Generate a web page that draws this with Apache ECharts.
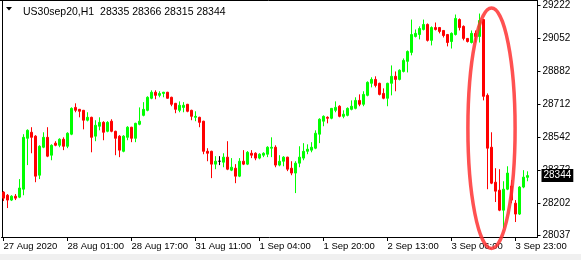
<!DOCTYPE html>
<html>
<head>
<meta charset="utf-8">
<script src="https://cdn.jsdelivr.net/npm/echarts@6/dist/echarts.min.js"></script>
<style>
html,body{margin:0;padding:0;background:#fff;}
#chart{width:581px;height:260px;}
</style>
</head>
<body>
<div id="chart"></div>
<script>
// ---- data (hourly bars, US30sep20 H1) ----
const symbolName = 'US30sep20,H1';
const tickLabels = ['27 Aug 2020','28 Aug 01:00','28 Aug 17:00','31 Aug 11:00','1 Sep 04:00','1 Sep 20:00','2 Sep 13:00','3 Sep 06:00','3 Sep 23:00'];
const yTickValues = [28037, 28202, 28372, 28542, 28712, 28882, 29052, 29222];
const opens = [
28259,28243,28218,28238,28233,28274,28536,28567,28547,28346,
28490,28541,28449,28511,28500,28531,28495,28557,28695,28685,
28680,28629,28644,28547,28598,28618,28572,28624,28572,28547,
28469,28541,28593,28536,28608,28654,28680,28742,28773,28757,
28767,28773,28747,28716,28680,28695,28711,28680,28644,28644,
28624,28469,28469,28403,28418,28413,28439,28372,28382,28341,
28418,28403,28459,28459,28434,28449,28454,28485,28490,28398,
28418,28439,28382,28357,28408,28434,28469,28475,28485,28557,
28624,28644,28639,28680,28701,28649,28654,28685,28690,28731,
28711,28757,28819,28839,28819,28767,28742,28819,28855,28839,
28880,28932,28978,29060,29070,29096,29122,29040,29106,29106,
29091,29070,29034,29070,29147,29112,29050,29029,29076,29060,
29147,28757,28490,28310,28269,28166,28274,28290,28202,28146,
28285,28335];
const closes = [
28228,28218,28238,28228,28280,28541,28577,28541,28341,28495,
28541,28444,28500,28500,28531,28495,28562,28690,28680,28675,
28629,28644,28541,28603,28618,28567,28618,28572,28536,28475,
28547,28593,28536,28613,28624,28685,28747,28773,28757,28767,
28773,28742,28711,28685,28706,28706,28675,28649,28649,28618,
28469,28459,28403,28418,28418,28439,28377,28387,28341,28418,
28403,28464,28449,28434,28454,28459,28490,28490,28398,28418,
28439,28377,28357,28408,28439,28469,28480,28490,28562,28634,
28649,28639,28690,28695,28649,28660,28690,28701,28731,28711,
28762,28824,28839,28808,28762,28742,28819,28855,28839,28886,
28937,28983,29070,29076,29101,29122,29040,29106,29096,29086,
29065,29029,29076,29153,29106,29050,29034,29076,29060,29142,
28752,28485,28305,28264,28166,28274,28357,28218,28146,28285,
28336,28344];
const lows = [
28213,28177,28213,28218,28228,28243,28398,28459,28310,28326,
28485,28439,28423,28495,28490,28475,28485,28552,28670,28644,
28582,28623,28464,28521,28577,28526,28567,28567,28449,28439,
28464,28526,28516,28516,28603,28649,28675,28737,28737,28747,
28747,28740,28701,28665,28670,28670,28670,28629,28624,28593,
28454,28418,28331,28377,28398,28387,28372,28367,28305,28336,
28398,28398,28434,28423,28428,28439,28439,28439,28387,28392,
28392,28367,28346,28254,28387,28423,28454,28464,28480,28511,
28598,28613,28634,28670,28644,28639,28649,28680,28685,28701,
28701,28752,28798,28798,28757,28737,28701,28757,28778,28834,
28875,28875,28963,29055,29045,29091,29034,29014,29091,29076,
29055,29009,28998,29065,29091,29040,29029,29024,29029,29029,
28731,28274,28300,28208,28161,28074,28269,28202,28105,28141,
28279,28315];
const highs = [
28264,28249,28243,28249,28326,28557,28582,28593,28552,28500,
28567,28593,28505,28521,28536,28541,28567,28695,28716,28687,
28682,28670,28647,28629,28644,28624,28624,28634,28575,28552,
28552,28598,28595,28616,28695,28722,28752,28783,28783,28778,
28775,28775,28750,28718,28726,28722,28713,28683,28675,28647,
28626,28485,28472,28444,28444,28459,28521,28434,28403,28434,
28475,28470,28475,28464,28459,28464,28495,28541,28500,28449,
28444,28441,28418,28418,28495,28511,28505,28516,28577,28639,
28654,28649,28692,28726,28706,28680,28695,28731,28747,28762,
28778,28829,28850,28855,28822,28793,28822,28911,28880,28891,
28947,28988,29147,29096,29112,29147,29127,29112,29132,29109,
29093,29073,29081,29173,29153,29117,29052,29091,29091,29178,
29150,28767,28567,28382,28377,28315,28392,28321,28218,28290,
28372,28366];
const emptyBarsRight = 2; // chart shift
// ---- build ----
const n = opens.length;
const categories = [];
for (let i = 0; i < n + emptyBarsRight; i++) categories.push(String(i));
const candles = opens.map((o, i) => {
  const item = { value: [o, closes[i], lows[i], highs[i]] };
  if (o === closes[i]) item.itemStyle = { color: '#000', color0: '#000', borderColor: '#000', borderColor0: '#000' };
  return item;
});
const last = n - 1;
const titleText = symbolName + '  ' + [opens[last], highs[last], lows[last], closes[last]].join(' ');
const FONT = 'Tahoma, "Liberation Sans", Arial, sans-serif';

const chart = echarts.init(document.getElementById('chart'), null, { renderer: 'canvas' });
chart.setOption({
  animation: false,
  backgroundColor: '#ffffff',
  title: {
    text: titleText, left: 18, top: 2,
    textStyle: { fontSize: 10.5, fontWeight: 'normal', color: '#000', fontFamily: FONT }
  },
  grid: { left: 1.5, right: 43.5, top: 0, bottom: 23, show: false },
  xAxis: {
    type: 'category', data: categories, boundaryGap: true,
    axisLine: { show: true, lineStyle: { color: '#000', width: 1 } },
    axisTick: { show: true, alignWithLabel: true, interval: 15, length: 4, lineStyle: { color: '#000' } },
    axisLabel: {
      interval: 15, align: 'left', margin: 4, color: '#000', fontSize: 9.5, fontFamily: FONT,
      formatter: (v, idx) => tickLabels[Math.round(idx / 16)] || ''
    },
    splitLine: { show: false }
  },
  yAxis: {
    type: 'value', position: 'right', min: 28028, max: 29245,
    axisLine: { show: true, lineStyle: { color: '#000', width: 1 } },
    axisTick: { show: true, length: 3, customValues: yTickValues, lineStyle: { color: '#000' } },
    axisLabel: { customValues: yTickValues, margin: 5, color: '#000', fontSize: 10, fontFamily: FONT,
      formatter: v => String(v) },
    splitLine: { show: false }
  },
  series: [{
    type: 'candlestick',
    data: candles,
    barWidth: 2,
    itemStyle: { color: '#00ff00', color0: '#ff0000', borderColor: '#00ff00', borderColor0: '#ff0000', borderWidth: 1 },
    markLine: {
      symbol: ['none', 'none'], silent: true, animation: false,
      lineStyle: { color: 'rgba(0,0,0,0)', width: 1, type: 'solid' },
      label: {
        show: true, position: 'end', distance: 4, formatter: String(closes[last]),
        color: '#fff', backgroundColor: '#000', padding: [2, 2, 1, 2], fontSize: 10, fontFamily: FONT
      },
      data: [{ yAxis: closes[last] }]
    }
  }]
});

// annotation ellipse around the sell-off (data-space bounds)
const annot = { fromIndex: 116.1, toIndex: 127.9, topPrice: 29206, bottomPrice: 27969 };
const p0 = chart.convertToPixel({ xAxisIndex: 0, yAxisIndex: 0 }, [0, annot.topPrice]);
const p1 = chart.convertToPixel({ xAxisIndex: 0, yAxisIndex: 0 }, [1, annot.bottomPrice]);
const bw = p1[0] - p0[0];
const xl = p0[0] + bw * annot.fromIndex, xr = p0[0] + bw * annot.toIndex;
const gridRight = chart.convertToPixel({ xAxisIndex: 0 }, categories[categories.length - 1]) + bw / 2;
const gridBottom = chart.convertToPixel({ yAxisIndex: 0 }, 28028);
chart.setOption({
  graphic: [
    { type: 'line', shape: { x1: 0, y1: 0.5, x2: gridRight, y2: 0.5 }, style: { stroke: '#000', lineWidth: 1 }, silent: true },
    { type: 'line', shape: { x1: 2.5, y1: 0, x2: 2.5, y2: gridBottom }, style: { stroke: '#000', lineWidth: 1 }, silent: true, z: -1 },
    { type: 'polygon', shape: { points: [[6, 7], [12, 7], [9, 10.5]] }, style: { fill: '#000' }, silent: true },
    { type: 'rect', shape: { x: 0, y: 254, width: 581, height: 6 }, style: { fill: '#f0f0f0' }, silent: true },
    { type: 'ellipse', shape: { cx: (xl + xr) / 2, cy: (p0[1] + p1[1]) / 2, rx: (xr - xl) / 2, ry: (p1[1] - p0[1]) / 2 },
      style: { fill: 'none', stroke: 'rgba(255,50,50,0.85)', lineWidth: 3.5 }, z: 100, silent: true }
  ]
});
</script>
</body>
</html>
